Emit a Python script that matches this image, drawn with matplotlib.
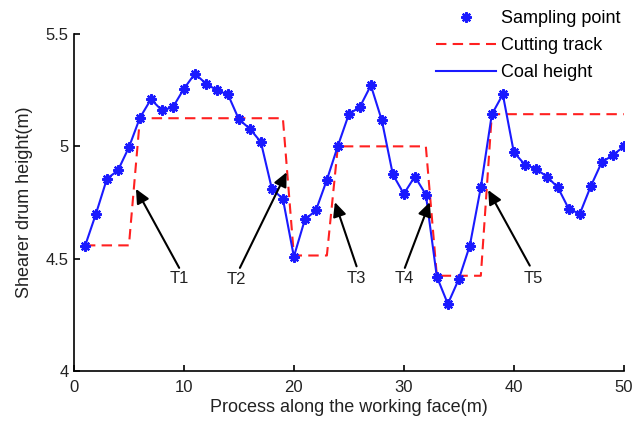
import matplotlib
matplotlib.use("Agg")
import matplotlib.pyplot as plt
from matplotlib.lines import Line2D

plt.rcParams['font.family'] = ['Liberation Sans', 'DejaVu Sans']

# Data
x_pos = list(range(1, 51))
coal_height = [4.556, 4.70, 4.856, 4.893, 4.996, 5.127, 5.209, 5.16, 5.174, 5.256,
               5.323, 5.279, 5.249, 5.231, 5.12, 5.078, 5.019, 4.811, 4.767, 4.51,
               4.675, 4.715, 4.851, 5.002, 5.143, 5.175, 5.271, 5.115, 4.875, 4.789,
               4.866, 4.786, 4.421, 4.30, 4.41, 4.559, 4.818, 5.142, 5.231, 4.974,
               4.919, 4.90, 4.866, 4.818, 4.722, 4.70, 4.823, 4.93, 4.96, 5.0]
cutting_track = [4.56] * 5 + [5.125] * 14 + [4.515] * 4 + [5.0] * 9 + [4.425] * 5 + [5.143] * 13

arrow_labels = ["T1", "T2", "T3", "T4", "T5"]
arrow_tips = [(5.64, 4.811), (19.34, 4.885), (23.73, 4.752), (32.36, 4.752), (37.67, 4.806)]
arrow_tails = [(9.57, 4.46), (15.09, 4.46), (25.70, 4.467), (30.09, 4.46), (41.45, 4.47)]
label_pos = [(9.57, 4.415), (14.8, 4.41), (25.70, 4.415), (30.0, 4.413), (41.76, 4.415)]

xticks = [0, 10, 20, 30, 40, 50]
yticks = [4, 4.5, 5, 5.5]
ytick_labels = ['4', '4.5', '5', '5.5']

BLUE = '#1a1aff'
RED = '#ff2020'
TXT = '#222222'

fig = plt.figure(figsize=(6.32, 4.23), dpi=100)
ax = fig.add_axes([0.117, 0.122, 0.870, 0.798])

ax.plot(x_pos, cutting_track, color=RED, linestyle=(0, (5, 3)), linewidth=1.5, zorder=2)
ax.plot(x_pos, coal_height, color=BLUE, linewidth=1.5, zorder=3)
ax.plot(x_pos, coal_height, linestyle='none', marker=(8, 2, 0), markersize=7.5,
        markeredgewidth=1.6, color=BLUE, zorder=4)

for lab, tip, tail, lp in zip(arrow_labels, arrow_tips, arrow_tails, label_pos):
    ax.annotate('', xy=tip, xytext=tail,
                arrowprops=dict(arrowstyle='-|>,head_length=0.85,head_width=0.4',
                                color='black', lw=1.5, shrinkA=0, shrinkB=0),
                zorder=5)
    ax.text(lp[0], lp[1], lab, ha='center', va='center', fontsize=12, color=TXT)

ax.set_xlim(0, 50)
ax.set_ylim(4, 5.5)
ax.set_xticks(xticks)
ax.set_yticks(yticks)
ax.set_yticklabels(ytick_labels)
ax.spines['top'].set_visible(False)
ax.spines['right'].set_visible(False)
for s in ['left', 'bottom']:
    ax.spines[s].set_linewidth(1.2)
ax.tick_params(direction='in', length=4, width=1.2, labelsize=12, colors='black',
               labelcolor=TXT)
ax.tick_params(axis='x', pad=6)
ax.tick_params(axis='y', pad=4)
ax.set_xlabel('Process along the working face(m)', fontsize=13, color=TXT, labelpad=3)
ax.set_ylabel('Shearer drum height(m)', fontsize=13, color=TXT, labelpad=9)

h1 = Line2D([], [], linestyle='none', marker=(8, 2, 0), markersize=7.5,
            markeredgewidth=1.6, color=BLUE)
h2 = Line2D([], [], color=RED, linestyle=(0, (5, 3)), linewidth=1.5)
h3 = Line2D([], [], color=BLUE, linewidth=1.5)
fig.legend([h1, h2, h3], ['Sampling point', 'Cutting track', 'Coal height'],
           loc='upper left', bbox_to_anchor=(0.670, 1.006), frameon=False,
           fontsize=13, handlelength=3.3, handletextpad=0.28, labelspacing=0.55,
           borderpad=0.2)

fig.savefig('out.png', dpi=100)
